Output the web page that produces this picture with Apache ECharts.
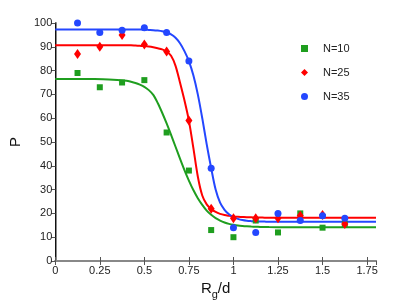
<!DOCTYPE html>
<html><head><meta charset="utf-8">
<script src="https://cdn.jsdelivr.net/npm/echarts@6/dist/echarts.min.js"></script>
<style>html,body{margin:0;padding:0;background:#fff}#c{width:415px;height:305px}</style>
</head><body><div id="c"></div>
<script>
const xPoints = [0.125,0.25,0.375,0.5,0.625,0.75,0.875,1.0,1.125,1.25,1.375,1.5,1.625];
const pN10 = [79,73,75,76,54,38,13,10,17,12,20,14,15.5];
const pN25 = [87,90,95,91,88,59,22,18,18,18,19,19.3,15.5];
const pN35 = [100,96,97,98,96,84,39,14,12,20,17,19,18];
const fitX = [0,0.1,0.2,0.3,0.4,0.425,0.45,0.475,0.5,0.525,0.55,0.575,0.6,0.625,0.65,0.675,0.7,0.725,0.75,0.775,0.8,0.825,0.85,0.875,0.9,0.925,0.95,0.975,1.0,1.025,1.05,1.075,1.1,1.125,1.15,1.175,1.2,1.3,1.4,1.5,1.6,1.7,1.8];
const fitN10 = [76.5,76.5,76.45,76.3,75.7,75.3,74.8,74.1,73.2,71.8,69.8,66.4,62.3,57.8,53,48,43,38.2,33.8,29.8,26.4,23.6,21.2,19.4,18,17,16.2,15.6,15.2,14.9,14.7,14.55,14.45,14.38,14.32,14.28,14.25,14.22,14.2,14.2,14.2,14.2,14.2];
const fitN25 = [90.7,90.7,90.7,90.68,90.65,90.6,90.5,90.4,90.3,90.1,89.8,89.4,88.9,88,86.2,82,75,67.5,59,47.5,35.5,27.5,23.8,21.8,20.6,19.8,19.3,19,18.75,18.6,18.5,18.4,18.35,18.3,18.25,18.22,18.2,18.2,18.2,18.2,18.2,18.2,18.2];
const fitN35 = [97.3,97.3,97.3,97.3,97.3,97.3,97.3,97.25,97.2,97.1,97,96.8,96.5,96,95.2,93.8,91.5,88.2,84,78,70,60,49,39,30,24.5,21.5,19.6,18.4,17.7,17.2,16.9,16.75,16.65,16.6,16.55,16.5,16.5,16.5,16.5,16.5,16.5,16.5];
const names = ['N=10','N=25','N=35'];
const colors = ['#1f9e1f','#ff0000','#2447ff'];
const font = 'Liberation Sans, Arial, sans-serif';
const pair = (xs, ys) => xs.map((x,i)=>[x, ys[i]]);

const chart = echarts.init(document.getElementById('c'), null, {renderer:'canvas'});
const tickColor = '#555';
chart.setOption({
  animation:false,
  grid:{left:54,right:39,top:23,bottom:40,containLabel:false},
  legend:{
    data:[{name:names[0],icon:'rect'},{name:names[1],icon:'diamond'},{name:names[2],icon:'circle'}],
    orient:'vertical', left:296, top:38,
    itemWidth:7, itemHeight:7, itemGap:13,
    textStyle:{fontFamily:font,fontSize:11,color:'#222',padding:[0,0,0,10]}
  },
  xAxis:[{
    type:'value', min:0, max:1.8, interval:0.25,
    name:'{a|R}{b|g}{a|/d}', nameLocation:'middle', nameGap:16,
    nameTextStyle:{rich:{a:{fontFamily:font,fontSize:15,color:'#111'},b:{fontFamily:font,fontSize:11,color:'#111',padding:[12,0,0,0]}}},
    axisLine:{lineStyle:{color:'#888',width:2}},
    axisTick:{inside:true,length:4,lineStyle:{color:tickColor}},
    axisLabel:{showMaxLabel:false,fontFamily:font,fontSize:11,color:'#222',margin:4},
    splitLine:{show:false}
  },{
    type:'value', position:'top', min:0, max:1.8, interval:0.25,
    axisLine:{show:true,lineStyle:{color:'#888',width:2}},
    axisTick:{inside:true,length:4,lineStyle:{color:tickColor}},
    axisLabel:{show:false}, splitLine:{show:false}
  }],
  yAxis:[{
    type:'value', min:0, max:100, interval:10,
    name:'P', nameLocation:'middle', nameGap:32, nameRotate:90,
    nameTextStyle:{fontFamily:font,fontSize:15,color:'#111'},
    axisLine:{show:true,lineStyle:{color:'#888',width:2}},
    axisTick:{show:true,inside:false,length:4,lineStyle:{color:tickColor}},
    axisLabel:{fontFamily:font,fontSize:11,color:'#222',margin:3},
    splitLine:{show:false}
  },{
    type:'value', position:'right', min:0, max:100, interval:10,
    axisLine:{show:true,lineStyle:{color:'#111',width:1}},
    axisTick:{show:true,inside:true,length:4,lineStyle:{color:tickColor}},
    axisLabel:{show:false}, splitLine:{show:false}
  }],
  series:[
    {name:'fit10',type:'line',data:pair(fitX,fitN10),smooth:0.3,showSymbol:false,symbol:'none',lineStyle:{color:colors[0],width:2},z:2},
    {name:'fit25',type:'line',data:pair(fitX,fitN25),smooth:0.3,showSymbol:false,symbol:'none',lineStyle:{color:colors[1],width:2},z:2},
    {name:'fit35',type:'line',data:pair(fitX,fitN35),smooth:0.3,showSymbol:false,symbol:'none',lineStyle:{color:colors[2],width:2},z:2},
    {name:names[0],type:'scatter',data:pair(xPoints,pN10),symbol:'rect',symbolSize:6,itemStyle:{color:colors[0],opacity:1},z:3},
    {name:names[1],type:'scatter',data:pair(xPoints,pN25),symbol:'diamond',symbolSize:[7,10],itemStyle:{color:colors[1],opacity:1},z:3},
    {name:names[2],type:'scatter',data:pair(xPoints,pN35),symbol:'circle',symbolSize:7,itemStyle:{color:colors[2],opacity:1},z:3}
  ]
});
</script></body></html>
